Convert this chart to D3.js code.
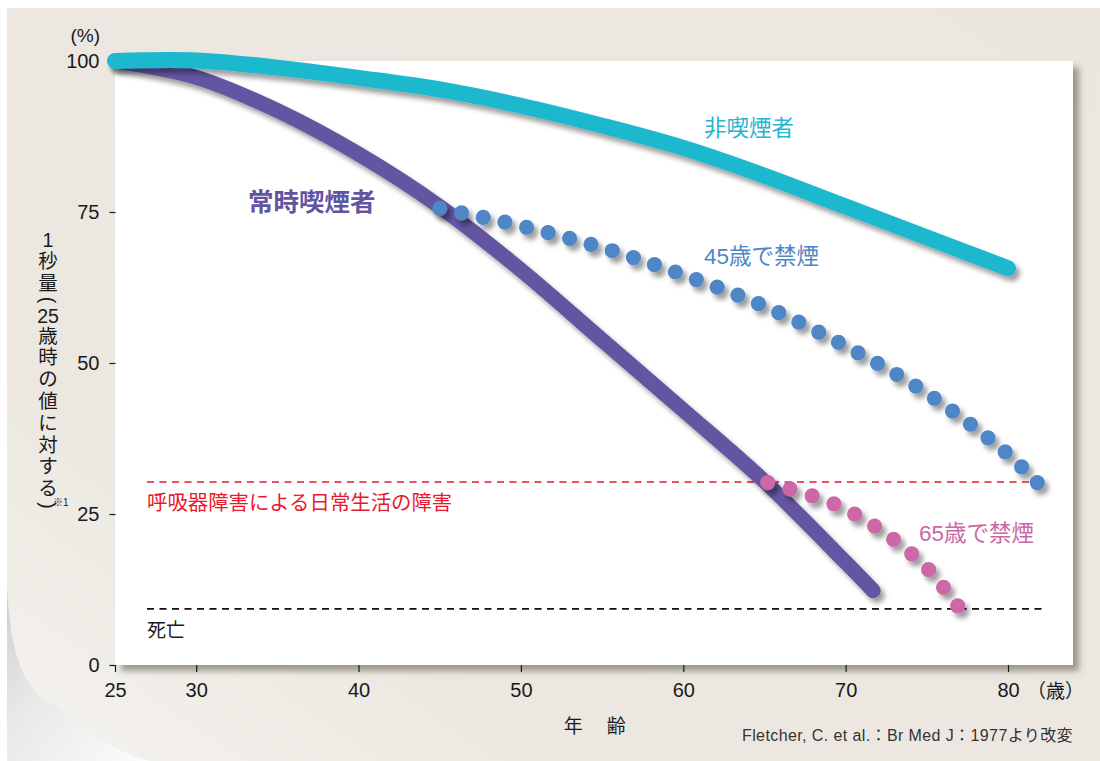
<!DOCTYPE html>
<html>
<head>
<meta charset="utf-8">
<script src="https://cdn.jsdelivr.net/npm/d3@7"></script>
<style>
  html, body { margin: 0; padding: 0; background: #ffffff; }
  svg { display: block; }
  text { font-family: "Liberation Sans", "Noto Sans CJK JP", sans-serif; }
</style>
</head>
<body>
<svg id="chart" width="1100" height="761"></svg>
<script>
// ---- data -------------------------------------------------------------
const ageTicks = [25, 30, 40, 50, 60, 70, 80];
const pctTicks = [0, 25, 50, 75, 100];

// 非喫煙者
const nonSmokerAge = [25, 30, 35, 40, 45, 50, 55, 60, 65, 70, 75, 80];
const nonSmokerVal = [100, 100.1, 98.9, 97.2, 95.3, 92.6, 89.3, 85.6, 81.0, 75.9, 70.8, 65.7];

// 常時喫煙者
const smokerAge = [25, 30, 35, 40, 45, 50, 55, 60, 65, 70, 71.7];
const smokerVal = [100, 97.3, 91.8, 84.6, 75.9, 65.4, 53.8, 42.2, 30.4, 17.0, 12.3];

// 45歳で禁煙
const quit45Age = [45, 50, 55, 60, 65, 70, 75, 80, 81.8];
const quit45Val = [75.6, 72.7, 69.1, 64.6, 59.4, 52.8, 45.0, 34.9, 30.2];
const quit45DotCount = 31;

// 65歳で禁煙
const quit65Age = [65.2, 67, 69, 71, 73, 75, 76.9];
const quit65Val = [30.2, 28.8, 27.0, 24.3, 20.7, 16.1, 9.8];
const quit65DotCount = 11;

// reference levels
const disabilityLevel = 30.3;
const deathLevel = 9.3;

// vertical axis title, one entry per upright unit
const yTitleParts = ["1", "秒", "量", "(", "25", "歳", "時", "の", "値", "に", "対", "す", "る", ")"];

// ---- layout -----------------------------------------------------------
const svg = d3.select("#chart");
const x = d3.scaleLinear().domain([25, 80]).range([115, 1008]);
const y = d3.scaleLinear().domain([0, 100]).range([665, 61]);
const plotRight = 1073;

const colors = {
  nonSmoker: "#1db8ce",
  smoker: "#6354a1",
  quit45: "#4f86c6",
  quit65: "#cc67a5",
  red: "#e8192c",
  ink: "#1a1a1a"
};

const defs = svg.append("defs");

const pageGrad = defs.append("linearGradient").attr("id", "pageGrad")
  .attr("x1", "1").attr("y1", "0").attr("x2", "0").attr("y2", "1");
pageGrad.append("stop").attr("offset", "0").attr("stop-color", "#ebe7df");
pageGrad.append("stop").attr("offset", "0.75").attr("stop-color", "#ece8e1");
pageGrad.append("stop").attr("offset", "1").attr("stop-color", "#f5f3ef");

const curlGrad = defs.append("linearGradient").attr("id", "curlGrad")
  .attr("x1", "0").attr("y1", "0").attr("x2", "1").attr("y2", "1");
curlGrad.append("stop").attr("offset", "0").attr("stop-color", "#cdcdcd");
curlGrad.append("stop").attr("offset", "0.4").attr("stop-color", "#e8e8e8");
curlGrad.append("stop").attr("offset", "1").attr("stop-color", "#fcfcfc");

const panelShadow = defs.append("filter").attr("id", "panelShadow")
  .attr("x", "-5%").attr("y", "-5%").attr("width", "115%").attr("height", "115%");
panelShadow.append("feDropShadow").attr("dx", 6).attr("dy", 6)
  .attr("stdDeviation", 3).attr("flood-color", "#5a534a").attr("flood-opacity", 0.55);

const markShadow = defs.append("filter").attr("id", "markShadow")
  .attr("x", "-10%").attr("y", "-10%").attr("width", "130%").attr("height", "130%");
markShadow.append("feDropShadow").attr("dx", 4).attr("dy", 5)
  .attr("stdDeviation", 2.6).attr("flood-color", "#000").attr("flood-opacity", 0.38);

// page background with its curled lower-left corner
svg.append("rect").attr("x", 7).attr("y", 8).attr("width", 1093).attr("height", 753)
  .attr("fill", "url(#pageGrad)");
svg.append("path")
  .attr("d", "M7,585 C10,655 24,694 58,706 L62,710 C92,738 120,753 150,761 L7,761 Z")
  .attr("fill", "url(#curlGrad)");

// white plotting panel
svg.append("rect")
  .attr("x", x(25)).attr("y", y(100))
  .attr("width", plotRight - x(25)).attr("height", y(0) - y(100))
  .attr("fill", "#ffffff").attr("filter", "url(#panelShadow)");

// ---- axes -------------------------------------------------------------
const yAxis = svg.append("g").attr("transform", `translate(${x(25) + 0.5},0)`)
  .call(d3.axisLeft(y).tickValues(pctTicks).tickSize(6).tickPadding(10));
const xAxis = svg.append("g").attr("transform", `translate(0,${y(0)})`)
  .call(d3.axisBottom(x).tickValues(ageTicks).tickSize(7).tickPadding(11));
[yAxis, xAxis].forEach(g => {
  g.select(".domain").remove();
  g.selectAll(".tick line").attr("stroke", colors.ink).attr("stroke-width", 1.2);
  g.selectAll(".tick text").attr("fill", colors.ink)
    .style("font-family", "'Liberation Sans', sans-serif").style("font-size", "20px");
});

svg.append("text").attr("x", 100).attr("y", 42).attr("text-anchor", "end")
  .attr("fill", colors.ink).style("font-size", "19px").text("(%)");
svg.append("text").attr("x", 1027).attr("y", 698)
  .attr("fill", colors.ink).style("font-size", "19px")
  .style("font-family", "'Noto Sans CJK JP', sans-serif").text("（歳）");

svg.append("text").attr("x", 596).attr("y", 733).attr("text-anchor", "middle")
  .attr("fill", colors.ink).style("font-size", "19px").style("letter-spacing", "2.5px")
  .style("font-family", "'Noto Sans CJK JP', sans-serif").text("年　齢");

svg.append("text").attr("x", 1073).attr("y", 741).attr("text-anchor", "end")
  .attr("fill", "#333").style("font-size", "16px").style("letter-spacing", "0.4px")
  .text("Fletcher, C. et al.：Br Med J：1977より改変");

// vertical axis title: each unit stacked below the last, brackets turned
const isBracket = p => p === "(" || p === ")";
const unitHeight = p => isBracket(p) ? 13 : (/^[0-9]+$/.test(p) ? (p.length > 1 ? 18 : 19.5) : 21.8);
let cursor = 230.5;
const yTitle = svg.append("g").attr("fill", colors.ink);
yTitleParts.forEach(p => {
  const h = unitHeight(p);
  const cy = cursor + h / 2;
  cursor += h;
  const t = yTitle.append("text")
    .attr("x", 48).attr("y", cy)
    .attr("text-anchor", "middle").attr("dominant-baseline", "central")
    .style("font-size", "19.5px")
    .text(p);
  if (isBracket(p)) t.attr("transform", `rotate(90,48,${cy})`);
});
svg.append("text").attr("x", 53).attr("y", 506).attr("fill", colors.ink)
  .style("font-size", "10px").text("※1");

// ---- reference levels -------------------------------------------------
const levelLeft = 147, levelRight = 1043;
svg.append("line").attr("x1", levelLeft).attr("x2", levelRight)
  .attr("y1", y(disabilityLevel)).attr("y2", y(disabilityLevel))
  .attr("stroke", colors.red).attr("stroke-width", 1.6).attr("stroke-dasharray", "7,5.5");
svg.append("line").attr("x1", levelLeft).attr("x2", levelRight)
  .attr("y1", y(deathLevel)).attr("y2", y(deathLevel))
  .attr("stroke", "#111").attr("stroke-width", 1.6).attr("stroke-dasharray", "7,5.5");

svg.append("text").attr("x", 147).attr("y", 510).attr("fill", colors.red)
  .style("font-size", "20.4px").style("font-family", "'Noto Sans CJK JP', sans-serif")
  .text("呼吸器障害による日常生活の障害");
svg.append("text").attr("x", 147).attr("y", 637).attr("fill", colors.ink)
  .style("font-size", "19px").style("font-family", "'Noto Sans CJK JP', sans-serif")
  .text("死亡");

// ---- curves -----------------------------------------------------------
const smooth = d3.line().x(d => x(d[0])).y(d => y(d[1])).curve(d3.curveCatmullRom.alpha(0.5));
const zip = (a, b) => a.map((v, i) => [v, b[i]]);

svg.append("path").datum(zip(smokerAge, smokerVal))
  .attr("d", smooth).attr("fill", "none").attr("stroke", colors.smoker)
  .attr("stroke-width", 15).attr("stroke-linecap", "round").attr("stroke-linejoin", "round")
  .attr("filter", "url(#markShadow)");

svg.append("path").datum(zip(nonSmokerAge, nonSmokerVal))
  .attr("d", smooth).attr("fill", "none").attr("stroke", colors.nonSmoker)
  .attr("stroke-width", 16).attr("stroke-linecap", "round").attr("stroke-linejoin", "round")
  .attr("filter", "url(#markShadow)");

// dotted series: evenly spaced dots along the curve
function dottedSeries(ages, vals, count, color) {
  const guide = svg.append("path").datum(zip(ages, vals)).attr("d", smooth)
    .attr("fill", "none").attr("stroke", "none");
  const node = guide.node();
  const len = node.getTotalLength();
  const pts = d3.range(count).map(i => node.getPointAtLength(len * i / (count - 1)));
  guide.remove();
  svg.append("g").attr("filter", "url(#markShadow)")
    .selectAll("circle").data(pts).join("circle")
    .attr("cx", d => d.x).attr("cy", d => d.y).attr("r", 7.6).attr("fill", color);
}
dottedSeries(quit45Age, quit45Val, quit45DotCount, colors.quit45);
dottedSeries(quit65Age, quit65Val, quit65DotCount, colors.quit65);

// ---- series labels ----------------------------------------------------
svg.append("text").attr("x", 704).attr("y", 136).attr("fill", "#27b5cf")
  .style("font-size", "22.5px").style("font-family", "'Noto Sans CJK JP', sans-serif")
  .text("非喫煙者");
svg.append("text").attr("x", 248).attr("y", 211).attr("fill", colors.smoker)
  .style("font-size", "25.5px").style("font-weight", "700")
  .style("font-family", "'Noto Sans CJK JP', sans-serif")
  .text("常時喫煙者");
svg.append("text").attr("x", 704).attr("y", 264).attr("fill", colors.quit45)
  .style("font-size", "22.5px").text("45歳で禁煙");
svg.append("text").attr("x", 919).attr("y", 541).attr("fill", colors.quit65)
  .style("font-size", "22.5px").text("65歳で禁煙");
</script>
</body>
</html>
